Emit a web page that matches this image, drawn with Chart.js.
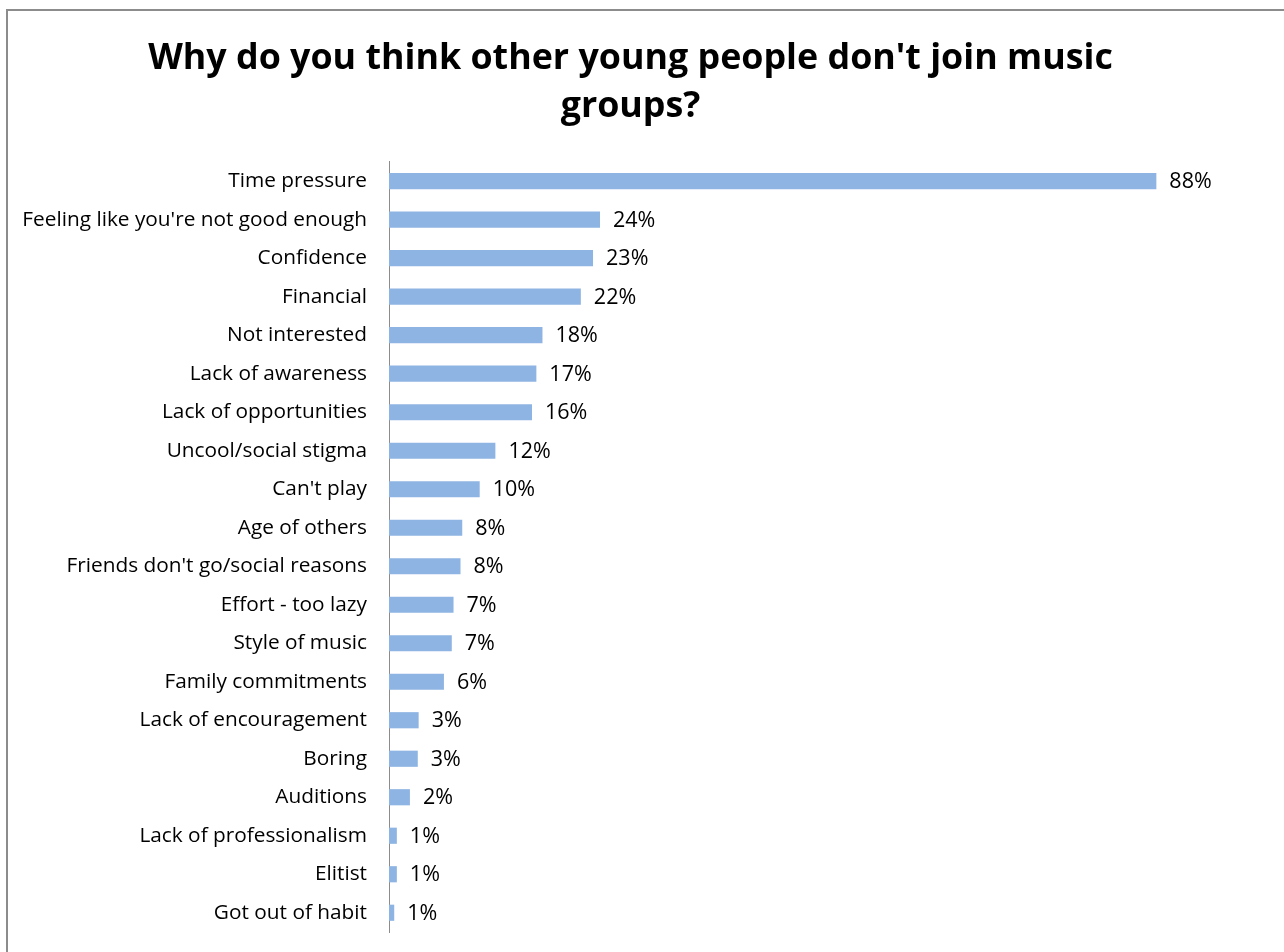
<!DOCTYPE html>
<html>
<head>
<meta charset="utf-8">
<script src="https://cdn.jsdelivr.net/npm/chart.js@4"></script>
<style>
  html, body { margin: 0; padding: 0; background: #fff; }
  #frame { position: absolute; left: 6px; top: 9px; width: 1400px; height: 1000px;
           border-left: 2px solid #8c8c8c; border-top: 2px solid #8c8c8c; }
  #wrap { position: absolute; left: 0; top: 0; width: 1284px; height: 952px; }
</style>
</head>
<body>
<div id="frame"></div>
<div id="wrap"><canvas id="myChart" width="1284" height="952"></canvas></div>
<script>
// categories, top to bottom
const categories = [
    'Time pressure', "Feeling like you're not good enough", 'Confidence', 'Financial',
    'Not interested', 'Lack of awareness', 'Lack of opportunities', 'Uncool/social stigma',
    "Can't play", 'Age of others', "Friends don't go/social reasons", 'Effort - too lazy',
    'Style of music', 'Family commitments', 'Lack of encouragement', 'Boring',
    'Auditions', 'Lack of professionalism', 'Elitist', 'Got out of habit'
];
// percent of respondents
const percentValues = [88, 24.2, 23.4, 22, 17.6, 16.9, 16.4, 12.2, 10.4, 8.4,
    8.2, 7.4, 7.2, 6.3, 3.4, 3.3, 2.4, 0.9, 0.9, 0.6];
const titleLines = ["Why do you think other young people don't join music", 'groups?'];

const barColor = '#8eb4e3';
const tickFont = { family: 'Open Sans', size: 20.8 };
const valueFontSize = 21.5;

// value labels to the right of every bar
const valueLabels = {
    id: 'valueLabels',
    afterDatasetsDraw(chart) {
        const ctx = chart.ctx;
        const meta = chart.getDatasetMeta(0);
        ctx.save();
        ctx.font = valueFontSize + 'px "Open Sans"';
        ctx.fillStyle = '#000';
        ctx.textBaseline = 'middle';
        ctx.textAlign = 'left';
        meta.data.forEach((bar, i) => {
            ctx.fillText(Math.round(percentValues[i]) + '%', bar.x + 13, bar.y + 1);
        });
        ctx.restore();
    }
};

var ctx = document.getElementById('myChart').getContext('2d');
var chart = new Chart(ctx, {
    type: 'bar',
    data: {
        labels: categories,
        datasets: [{
            data: percentValues,
            backgroundColor: barColor,
            borderWidth: 0,
            barPercentage: 0.42,
            categoryPercentage: 1
        }]
    },
    options: {
        indexAxis: 'y',
        responsive: false,
        animation: false,
        layout: { padding: { left: 0, right: 23, top: 0, bottom: 20 } },
        plugins: {
            legend: { display: false },
            tooltip: { enabled: false },
            title: {
                display: true,
                text: titleLines,
                color: '#000',
                font: { family: 'Open Sans', size: 35.8, weight: 'bold', lineHeight: 1.34 },
                padding: { top: 35, bottom: 31 }
            }
        },
        scales: {
            x: { display: false, min: 0, max: 100 },
            y: {
                afterFit(scale) {
                    scale.width = 389;
                    // tick padding should not push the plot area in from top/bottom
                    scale.paddingTop = 0;
                    scale.paddingBottom = 0;
                },
                grid: { display: false, drawTicks: false },
                border: { display: true, color: '#8c8c8c', width: 1 },
                ticks: { color: '#000', font: tickFont, padding: 22, autoSkip: false }
            }
        }
    },
    plugins: [valueLabels]
});
</script>
</body>
</html>
